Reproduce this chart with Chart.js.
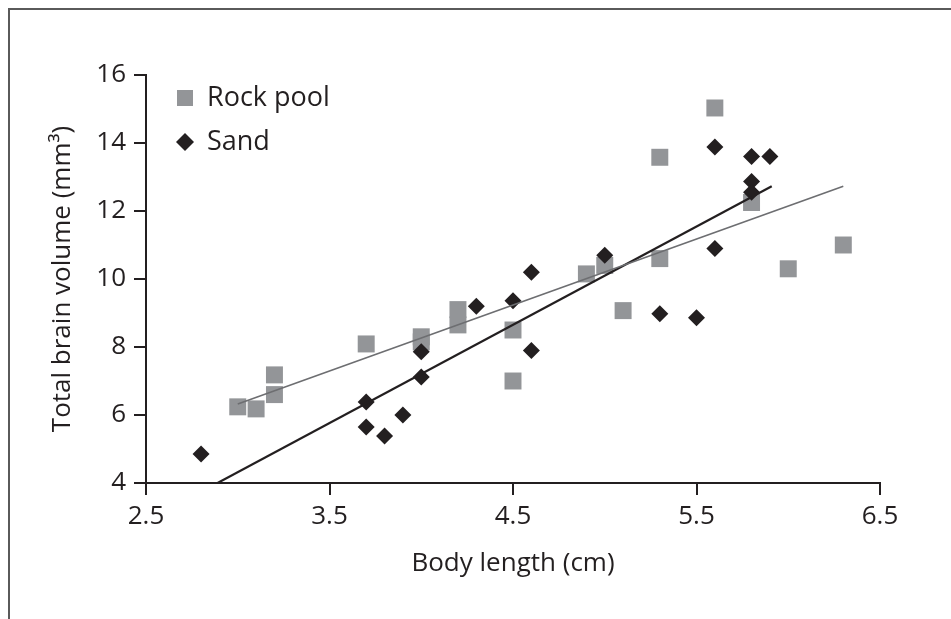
<!DOCTYPE html>
<html>
<head>
<meta charset="utf-8">
<script src="https://cdn.jsdelivr.net/npm/chart.js@4/dist/chart.umd.min.js"></script>
<style>
  html, body { margin: 0; padding: 0; background: #fff; overflow: hidden; }
  #wrap { position: absolute; left: 0; top: 0; width: 951px; height: 619px; }
  #frame { position: absolute; left: 8px; top: 8px; width: 960px; height: 640px;
           border-top: 2px solid #5a5a5a; border-left: 2px solid #5a5a5a; pointer-events: none; }
</style>
</head>
<body>
<div id="wrap"><canvas id="brainChart" width="951" height="619"></canvas></div>
<div id="frame"></div>
<script>
// values
const rockX = [3.0, 3.1, 3.2, 3.2, 3.7, 4.0, 4.0, 4.2, 4.2, 4.5, 4.5, 4.9, 5.0, 5.1, 5.3, 5.3, 5.6, 5.8, 6.0, 6.3];
const rockY = [6.24, 6.18, 7.18, 6.6, 8.09, 8.3, 8.15, 9.1, 8.65, 8.5, 7.0, 10.15, 10.4, 9.07, 13.58, 10.6, 15.03, 12.25, 10.3, 11.0];
const sandX = [2.8, 3.7, 3.7, 3.8, 3.9, 4.0, 4.0, 4.3, 4.5, 4.6, 4.6, 5.0, 5.3, 5.5, 5.6, 5.6, 5.8, 5.9, 5.8, 5.8];
const sandY = [4.85, 6.38, 5.65, 5.38, 6.0, 7.12, 7.86, 9.2, 9.36, 10.2, 7.9, 10.7, 8.98, 8.86, 13.88, 10.9, 13.6, 13.6, 12.87, 12.55];

// fitted lines (end points)
const rockFitX = [3.0, 6.3];
const rockFitY = [6.32, 12.73];
const sandFitX = [2.89, 5.91];
const sandFitY = [4.0, 12.73];

const xTicks = [2.5, 3.5, 4.5, 5.5, 6.5];
const yTicks = [4, 6, 8, 10, 12, 14, 16];

const ink = '#231f20';
const grey = '#939598';
const fontFamily = '"Open Sans", sans-serif';
const fontSize = 26;

const pts = (xs, ys) => xs.map((x, i) => ({ x: x, y: ys[i] }));

// legend drawn inside the plot, top-left
const insideLegend = {
  id: 'insideLegend',
  afterDraw(chart) {
    const ctx = chart.ctx;
    const items = [
      { label: 'Rock pool', style: 'rect', color: grey },
      { label: 'Sand', style: 'diamond', color: ink }
    ];
    ctx.save();
    ctx.font = '27px ' + fontFamily;
    ctx.textBaseline = 'middle';
    items.forEach((it, i) => {
      const cx = 185, cy = 98 + i * 44;
      ctx.fillStyle = it.color;
      if (it.style === 'rect') {
        ctx.fillRect(cx - 8, cy - 8, 16, 16);
      } else {
        ctx.beginPath();
        ctx.moveTo(cx, cy - 9);
        ctx.lineTo(cx + 9, cy);
        ctx.lineTo(cx, cy + 9);
        ctx.lineTo(cx - 9, cy);
        ctx.closePath();
        ctx.fill();
      }
      ctx.fillStyle = ink;
      ctx.fillText(it.label, 207, cy);
    });
    ctx.restore();
  }
};

new Chart(document.getElementById('brainChart').getContext('2d'), {
  type: 'scatter',
  data: {
    datasets: [
      {
        label: 'Rock pool fit',
        data: pts(rockFitX, rockFitY),
        showLine: true,
        borderColor: '#6d6e71',
        borderWidth: 1.6,
        pointRadius: 0,
        order: 0
      },
      {
        label: 'Sand fit',
        data: pts(sandFitX, sandFitY),
        showLine: true,
        borderColor: ink,
        borderWidth: 2.2,
        pointRadius: 0,
        order: 0
      },
      {
        label: 'Sand',
        data: pts(sandX, sandY),
        pointStyle: 'rectRot',
        pointRadius: 8.5,
        backgroundColor: ink,
        borderWidth: 0,
        order: 1
      },
      {
        label: 'Rock pool',
        data: pts(rockX, rockY),
        pointStyle: 'rect',
        pointRadius: 12,
        backgroundColor: grey,
        borderWidth: 0,
        order: 2
      }
    ]
  },
  options: {
    responsive: false,
    animation: false,
    layout: { padding: { top: 75, right: 71, left: 0, bottom: 0 } },
    plugins: { legend: { display: false }, tooltip: { enabled: false } },
    scales: {
      x: {
        type: 'linear',
        min: 2.5,
        max: 6.5,
        afterBuildTicks: s => { s.ticks = xTicks.map(v => ({ value: v })); },
        afterFit: s => { s.height = 136; },
        ticks: {
          callback: v => v.toFixed(1),
          color: ink,
          padding: 6,
          font: { family: fontFamily, size: fontSize }
        },
        grid: { drawOnChartArea: false, drawTicks: true, tickLength: 12, color: ink, lineWidth: 2 },
        border: { display: true, color: ink, width: 2 },
        title: {
          display: true,
          text: 'Body length (cm)',
          color: ink,
          font: { family: fontFamily, size: fontSize },
          padding: { top: 0, bottom: 40 }
        }
      },
      y: {
        type: 'linear',
        min: 4,
        max: 16,
        afterBuildTicks: s => { s.ticks = yTicks.map(v => ({ value: v })); },
        afterFit: s => { s.width = 146; },
        ticks: {
          color: ink,
          padding: 8,
          font: { family: fontFamily, size: fontSize }
        },
        grid: { drawOnChartArea: false, drawTicks: true, tickLength: 12, color: ink, lineWidth: 2 },
        border: { display: true, color: ink, width: 2 },
        title: {
          display: true,
          text: 'Total brain volume (mm³)',
          color: ink,
          font: { family: fontFamily, size: fontSize },
          padding: { top: 47, bottom: 0 }
        }
      }
    }
  },
  plugins: [insideLegend]
});
</script>
</body>
</html>
